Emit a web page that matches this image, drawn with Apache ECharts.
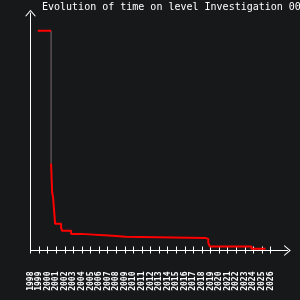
<!DOCTYPE html>
<html>
<head>
<meta charset="utf-8">
<script src="https://cdn.jsdelivr.net/npm/echarts@6/dist/echarts.min.js"></script>
<style>
html,body{margin:0;padding:0;background:#17181a;}
#c{width:300px;height:300px;}
</style>
</head>
<body>
<div id="c"></div>
<script>
var titleText = 'Evolution of time on level Investigation 00';
var xMin = 1998, xMax = 2026;
var stepYears  = [1998.85, 2000.40, 2000.52, 2000.64, 2000.87, 2001.57, 2001.69, 2002.74, 2003.90, 2007.57, 2009.08, 2018.37, 2018.74, 2018.92, 2023.78, 2025.42];
var stepValues = [92.5,    36.6,    24.7,    22.1,    11.3,    9.5,     8.3,     7.0,     6.2,     5.8,     5.3,     4.9,     3.2,     1.7,     0.7,     0.7];

var topSeg = [[stepYears[0], stepValues[0]], [stepYears[1], stepValues[0]]];
var dropSeg = [[stepYears[1], stepValues[0]], [stepYears[1], stepValues[1]]];
var restSeg = stepYears.slice(1).map(function(y, i){ return [y, stepValues[i + 1]]; });
var chevron = 'path://M0,6 L5,0 L10,6 L8.8,6 L5,1.5 L1.2,6 Z';
var mono = 'DejaVu Sans Mono';
var chart = echarts.init(document.getElementById('c'), null, {renderer:'canvas'});
chart.setOption({
  animation: false,
  backgroundColor: '#17181a',
  title: {
    text: titleText, left: 42, top: 2, padding: 0,
    textStyle: {color:'#ffffff', fontFamily: mono, fontSize: 10, fontWeight:'normal'}
  },
  grid: [
    {left: 30.5, right: 29.5, top: 13, bottom: 49.5},
    {left: 30.5, right: 12.5, top: 13, bottom: 49.5}
  ],
  xAxis: [
    {gridIndex:0, type:'value', min:xMin, max:xMax, interval:1, position:'bottom',
     axisLine:{show:false},
     axisTick:{show:true, inside:true, length:4, lineStyle:{color:'#ffffff', width:1}},
     axisLabel:{show:true, rotate:90, margin:21, color:'#ffffff', fontFamily:mono, fontSize:8, fontWeight:'bold',
       formatter:function(v){return String(v);}},
     splitLine:{show:false}},
    {gridIndex:0, type:'value', min:xMin, max:xMax, interval:1, position:'bottom', offset:0,
     axisLine:{show:false},
     axisTick:{show:true, inside:false, length:3, lineStyle:{color:'#ffffff', width:1}},
     axisLabel:{show:false}, splitLine:{show:false}},
    {gridIndex:1, type:'value', min:0, max:1, position:'bottom',
     axisLine:{show:true, symbol:['none', chevron], symbolSize:[11,6.6], lineStyle:{color:'#ffffff', width:1}},
     axisTick:{show:false}, axisLabel:{show:false}, splitLine:{show:false}}
  ],
  yAxis: [
    {gridIndex:0, type:'value', min:0, max:100,
     axisLine:{show:true, symbol:['none', chevron], symbolSize:[11,6.6], lineStyle:{color:'#ffffff', width:1}},
     axisTick:{show:false}, axisLabel:{show:false}, splitLine:{show:false}},
    {gridIndex:1, type:'value', min:0, max:1, show:false}
  ],
  series: [
    {type:'line', xAxisIndex:0, yAxisIndex:0, data:dropSeg, showSymbol:false, symbol:'none',
     lineStyle:{color:'#7a6a6a', width:1}},
    {type:'line', xAxisIndex:0, yAxisIndex:0, data:topSeg, showSymbol:false, symbol:'none',
     lineStyle:{color:'#ff0000', width:2}},
    {type:'line', xAxisIndex:0, yAxisIndex:0, step:'end', data:restSeg, showSymbol:false, symbol:'none',
     lineStyle:{color:'#ff0000', width:2}}
  ]
});
</script>
</body>
</html>
